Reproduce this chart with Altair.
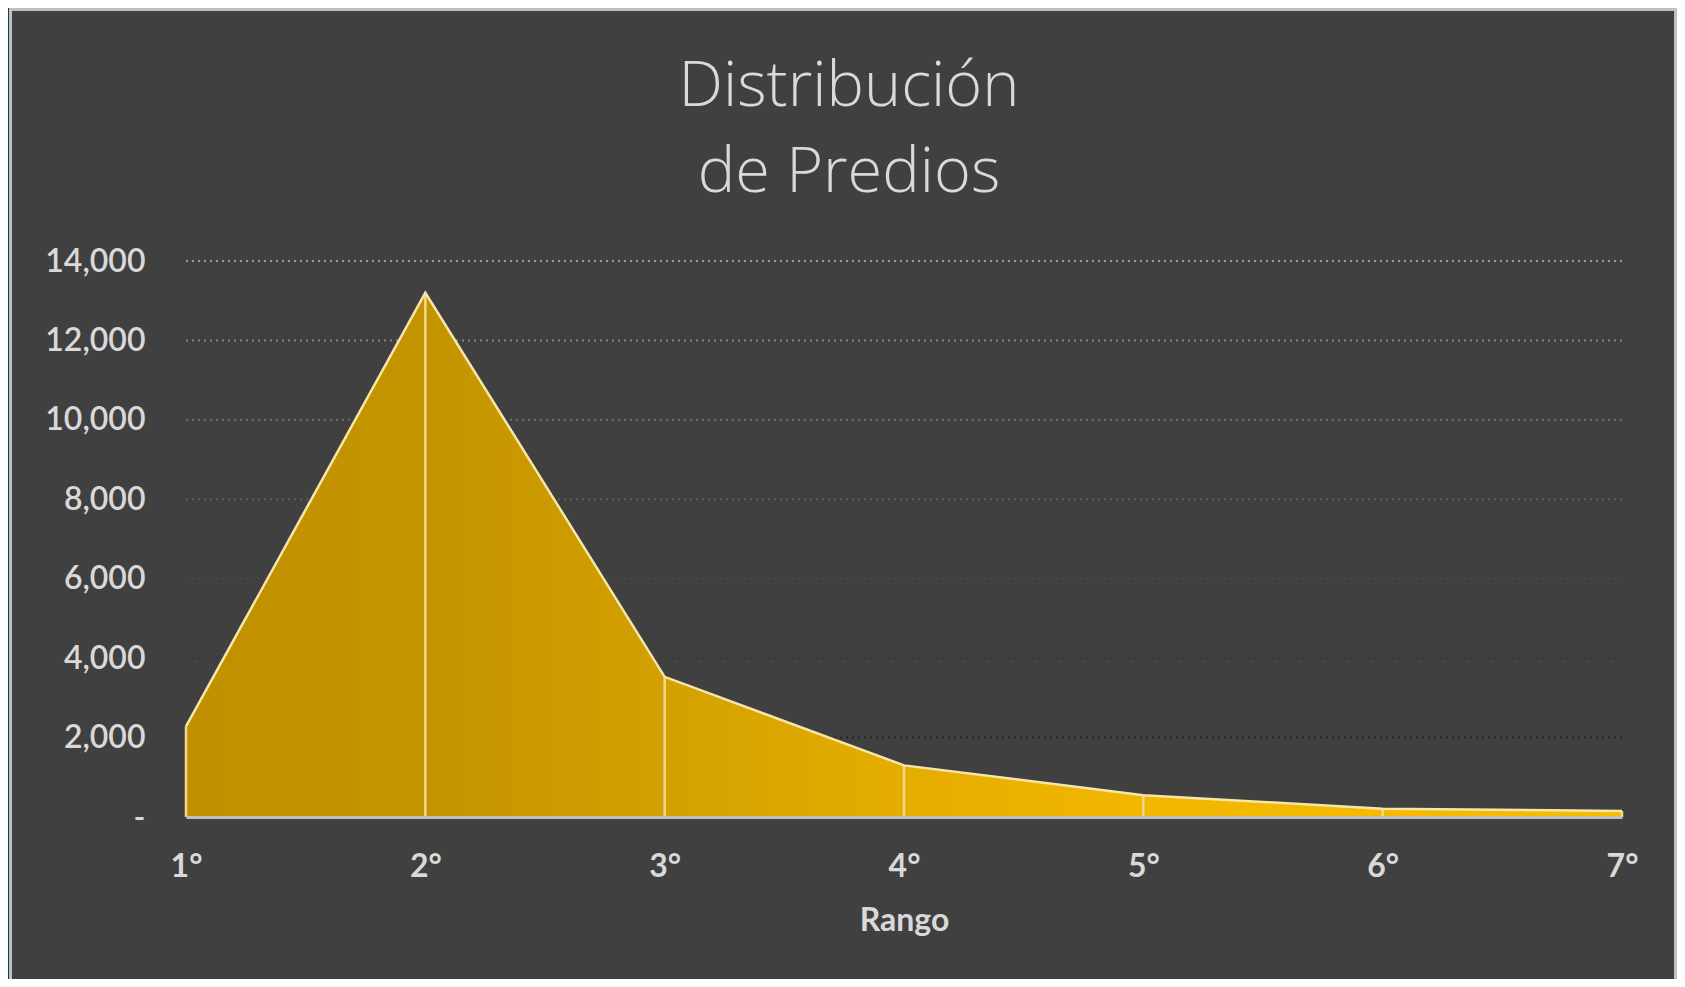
import altair as alt
import pandas as pd

# ---- data ----
rangos = [1, 2, 3, 4, 5, 6, 7]
predios = [2280, 13200, 3530, 1300, 550, 210, 150]
y_ticks = [0, 2000, 4000, 6000, 8000, 10000, 12000, 14000]
grid_vals = [2000, 4000, 6000, 8000, 10000, 12000, 14000]

df = pd.DataFrame({"rango": rangos, "predios": predios})
grid_df = pd.DataFrame({"v": grid_vals})

W, H = 1436, 556
PAD = {"left": 178, "top": 253, "right": 55, "bottom": 162}

xscale = alt.Scale(domain=[1, 7], nice=False, zero=False)
yscale = alt.Scale(domain=[0, 14000], nice=False)

TXT = "#D9D9D9"

y_axis = alt.Axis(
    values=y_ticks,
    labelExpr="datum.value == 0 ? '-\u00a0\u00a0\u00a0' : format(datum.value, ',')",
    grid=False, ticks=False, domain=False,
    labelFont="Lato", labelFontSize=32, labelFontWeight=600,
    labelColor=TXT, labelPadding=41, zindex=1,
)

x_axis = alt.Axis(
    values=rangos, labelExpr="datum.value + '°'",
    grid=False, ticks=False, domain=True,
    domainColor="#BFBFBF", domainWidth=3,
    labelFont="Lato", labelFontSize=32, labelFontWeight="bold",
    labelColor=TXT, labelPadding=34, labelFlush=False,
    titleFont="Lato", titleFontSize=32, titleFontWeight="bold",
    titleColor=TXT, titlePadding=23, zindex=1,
)

# decorative frame (chart border)
frame = alt.Chart(alt.Data(values=[{"k": 1}])).mark_rect(
    fill="#404040", stroke="#BFBFBF", strokeWidth=3
).encode(
    x=alt.value(-175.5), x2=alt.value(1489.5),
    y=alt.value(-251.5), y2=alt.value(800),
)

grid = alt.Chart(grid_df).mark_rule(strokeDash=[2, 4], strokeWidth=2).encode(
    y=alt.Y("v:Q", scale=yscale, axis=y_axis, title=None),
    color=alt.Color("v:Q", scale=alt.Scale(domain=[2000, 14000],
                                           range=["#262626", "#9a9a9a"]),
                    legend=None),
)

gradient = alt.Gradient(
    gradient="linear",
    stops=[
        alt.GradientStop(color="#C09000", offset=0),
        alt.GradientStop(color="#C49400", offset=0.17),
        alt.GradientStop(color="#D2A000", offset=0.33),
        alt.GradientStop(color="#E5AD00", offset=0.5),
        alt.GradientStop(color="#F1B600", offset=0.66),
        alt.GradientStop(color="#F5BA00", offset=0.83),
        alt.GradientStop(color="#F6BC00", offset=1),
    ],
    x1=0, x2=1, y1=0, y2=0,
)

base = alt.Chart(df)

area = base.mark_area(color=gradient, opacity=1).encode(
    x=alt.X("rango:Q", scale=xscale, title="Rango", axis=x_axis),
    y=alt.Y("predios:Q", scale=yscale, title=None, axis=y_axis),
)

drops = base.mark_rule(color="#F2D88E", strokeWidth=2.5).encode(
    x=alt.X("rango:Q", scale=xscale, title="Rango", axis=x_axis),
    y=alt.Y("predios:Q", scale=yscale, title=None, axis=y_axis),
    y2=alt.datum(0),
)

line = base.mark_line(color="#F6E6A8", strokeWidth=2.5).encode(
    x=alt.X("rango:Q", scale=xscale, title="Rango", axis=x_axis),
    y=alt.Y("predios:Q", scale=yscale, title=None, axis=y_axis),
)

chart = alt.layer(frame, grid, area, drops, line).properties(
    width=W, height=H,
    padding=PAD,
    autosize=alt.AutoSizeParams(type="none"),
    background="#113E57",
    title=alt.TitleParams(
        text=["Distribución", "de Predios"],
        font="Open Sans", fontSize=63, fontWeight=300,
        color=TXT, lineHeight=86, anchor="middle",
        dx=-55, offset=-197,
    ),
).configure_view(stroke=None)

chart.save("out.html", embed_options={"renderer": "svg", "actions": False})
